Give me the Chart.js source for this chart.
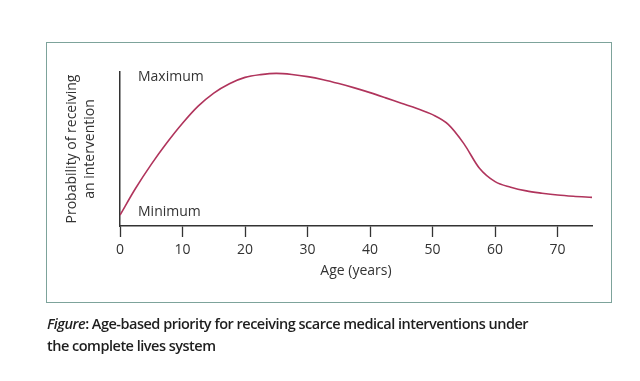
<!DOCTYPE html>
<html>
<head>
<meta charset="utf-8">
<script src="https://cdn.jsdelivr.net/npm/chart.js@4/dist/chart.umd.min.js"></script>
<style>
  html, body { margin: 0; padding: 0; background: #ffffff; }
  body { width: 640px; height: 381px; position: relative; overflow: hidden; font-family: "Open Sans", sans-serif; }
  #box { position: absolute; left: 46px; top: 42px; width: 564px; height: 259px; border: 1.5px solid #7da39b; }
  #wrap { position: absolute; left: 0; top: 0; width: 640px; height: 381px; }
  #caption { position: absolute; left: 47px; top: 313px; width: 590px; font-size: 14.5px; line-height: 22px; color: #1e1e1e; font-weight: 600; letter-spacing: -0.5px; }
  #caption i { font-weight: 600; }
</style>
</head>
<body>
<div id="box"></div>
<div id="wrap"><canvas id="c" width="640" height="381"></canvas></div>
<div id="caption"><i>Figure</i>: Age-based priority for receiving scarce medical interventions under<br>the complete lives system</div>
<script>
// Data
const ages = [0, 2.5, 5, 7.5, 10, 12.5, 15, 17.5, 20, 22.5, 25, 27.5, 30, 32.5, 35, 37.5, 40, 42.5, 45, 47.5, 50, 52.5, 55, 57.5, 60, 62.5, 65, 67.5, 70, 72.5, 75.5];
const probability = [7.1, 24.5, 40, 54, 66.7, 77.8, 86.3, 92.4, 96.5, 98.3, 99.1, 98.4, 97, 95, 92.5, 89.7, 86.6, 83.2, 79.7, 76.3, 72.3, 66, 53.5, 37.5, 28.8, 25.2, 22.8, 21.3, 20.1, 19.3, 18.6];
const xTickValues = [0, 10, 20, 30, 40, 50, 60, 70];
const yTickValues = [9, 96.8];
const yTickLabels = ["Minimum", "Maximum"];
const xTitle = "Age (years)";
const yTitle = ["Probability of receiving", "an intervention"];

const points = ages.map((a, i) => ({ x: a, y: probability[i] }));
const textColor = "#333333";
const fontFamily = "'Open Sans', sans-serif";

new Chart(document.getElementById("c"), {
  type: "line",
  data: {
    datasets: [{
      data: points,
      borderColor: "#b0345c",
      borderWidth: 1.6,
      pointRadius: 0,
      fill: false,
      cubicInterpolationMode: "monotone"
    }]
  },
  options: {
    responsive: false,
    animation: false,
    events: [],
    layout: { padding: { left: 0, top: 72, right: 48, bottom: 0 } },
    plugins: { legend: { display: false }, tooltip: { enabled: false } },
    scales: {
      x: {
        type: "linear",
        min: 0,
        max: 75.5,
        afterFit: (s) => { s.height = 155; },
        afterBuildTicks: (s) => { s.ticks = xTickValues.map(v => ({ value: v })); },
        grid: { drawOnChartArea: false, drawTicks: true, tickLength: 11, tickColor: "#333", tickWidth: 1.3 },
        border: { display: true, color: "#333", width: 1.5 },
        ticks: { color: textColor, padding: 5, font: { family: fontFamily, size: 14 }, maxRotation: 0 },
        title: { display: true, text: xTitle, color: textColor, font: { family: fontFamily, size: 14 }, padding: { top: 0, bottom: 102 } }
      },
      y: {
        type: "linear",
        min: 0,
        max: 100,
        afterFit: (s) => { s.width = 120; },
        afterBuildTicks: (s) => { s.ticks = yTickValues.map(v => ({ value: v })); },
        grid: { display: false },
        border: { display: true, color: "#333", width: 1.5 },
        ticks: {
          mirror: true,
          padding: 18,
          color: textColor,
          font: { family: fontFamily, size: 14 },
          callback: (v, i) => yTickLabels[i]
        },
        title: { display: true, text: yTitle, color: textColor, font: { family: fontFamily, size: 14, lineHeight: 1.3 }, padding: { top: 63, bottom: 0 } }
      }
    }
  }
});
</script>
</body>
</html>
